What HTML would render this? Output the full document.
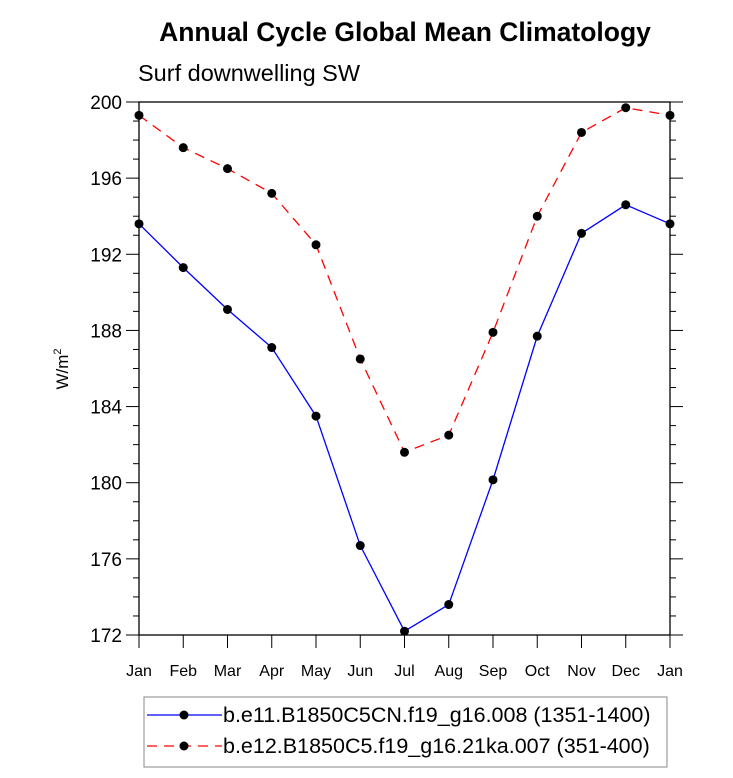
<!DOCTYPE html>
<html><head><meta charset="utf-8"><style>
body{margin:0;background:#fff;font-family:"Liberation Sans",sans-serif}
svg text{font-family:"Liberation Sans",sans-serif}
</style></head><body>
<svg id="c" width="733" height="773" xmlns="http://www.w3.org/2000/svg">
<text x="405" y="41" text-anchor="middle" font-size="26.5" font-weight="bold">Annual Cycle Global Mean Climatology</text>
<text x="138" y="81" font-size="23.5">Surf downwelling SW</text>
<text transform="translate(68,369) rotate(-90)" text-anchor="middle" font-size="17">W/m<tspan dy="-7" font-size="11">2</tspan></text>
<g id="axes"></g><g id="series"></g>
<rect x="144" y="697" width="523" height="70" fill="none" stroke="#888" stroke-width="1"/>
<g>
<line x1="147" y1="715" x2="222" y2="715" stroke="#0000ff" stroke-width="1.3"/>
<circle cx="184" cy="715" r="4.5" fill="#000"/>
<text x="223" y="722" font-size="21.5">b.e11.B1850C5CN.f19_g16.008 (1351-1400)</text></g>
<g>
<line x1="147" y1="746" x2="222" y2="746" stroke="#ff0000" stroke-width="1.3" stroke-dasharray="10,7"/>
<circle cx="184" cy="746" r="4.5" fill="#000"/>
<text x="223" y="753" font-size="21.5">b.e12.B1850C5.f19_g16.21ka.007 (351-400)</text></g>
</svg>
<script>
const months=["Jan","Feb","Mar","Apr","May","Jun","Jul","Aug","Sep","Oct","Nov","Dec","Jan"];
const blueVals=[193.6,191.3,189.1,187.1,183.5,176.7,172.2,173.6,180.15,187.7,193.1,194.6,193.6];
const redVals=[199.3,197.6,196.5,195.2,192.5,186.5,181.6,182.5,187.9,194.0,198.4,199.7,199.3];
const yTicks=[172,176,180,184,188,192,196,200];
const X0=139,X1=670,Y0=102,Y1=635,YMIN=172,YMAX=200;
const NS="http://www.w3.org/2000/svg";
const xs=i=>X0+(X1-X0)*i/(months.length-1);
const ys=v=>Y1-(v-YMIN)/(YMAX-YMIN)*(Y1-Y0);
function mk(t,a,p){const e=document.createElementNS(NS,t);for(const k in a)e.setAttribute(k,a[k]);p.appendChild(e);return e;}
const ax=document.getElementById('axes');
const fr=mk('rect',{x:X0,y:Y0,width:X1-X0,height:Y1-Y0,fill:'none',stroke:'#000','stroke-width':1.3},ax);


for(let v=YMIN;v<=YMAX;v++){const maj=(v-YMIN)%4===0;const L=maj?13:6;
mk('line',{x1:X0-L,x2:X0,y1:ys(v),y2:ys(v),stroke:'#000','stroke-width':1},ax);
mk('line',{x1:X1,x2:X1+L,y1:ys(v),y2:ys(v),stroke:'#000','stroke-width':1},ax);}
yTicks.forEach(v=>{const t=mk('text',{x:X0-17,y:ys(v)+7,'text-anchor':'end','font-size':19},ax);t.textContent=v;

});
months.forEach((m,i)=>{mk('line',{x1:xs(i),x2:xs(i),y1:Y1,y2:Y1+13,stroke:'#000','stroke-width':1},ax);
const t=mk('text',{x:xs(i),y:676,'text-anchor':'middle','font-size':16},ax);t.textContent=m;

});
const sg=document.getElementById('series');
[[blueVals,'#0000ff',null,'blue-series'],[redVals,'#ff0000','10,7','red-series']].forEach(([vals,col,dash,nm])=>{
const g=mk('g',{},sg);


const p=mk('polyline',{points:vals.map((v,i)=>xs(i)+','+ys(v)).join(' '),fill:'none',stroke:col,'stroke-width':1.3},g);
if(dash)p.setAttribute('stroke-dasharray',dash);
vals.forEach((v,i)=>{const c=mk('circle',{cx:xs(i),cy:ys(v),r:4.5,fill:'#000'},g);

});});
</script>
</body></html>
